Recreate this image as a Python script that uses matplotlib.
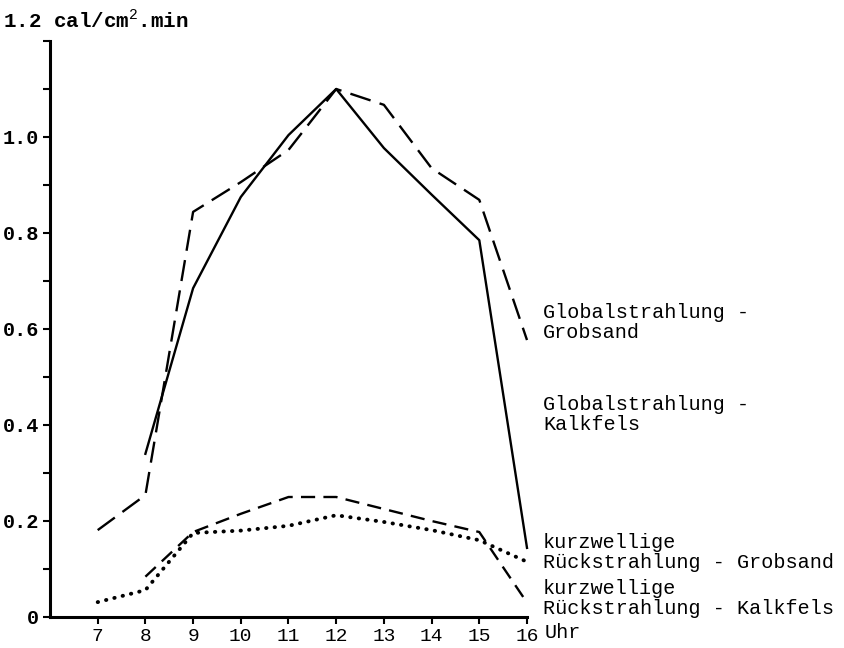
import matplotlib
matplotlib.use("Agg")
import matplotlib.pyplot as plt
from matplotlib.ticker import MultipleLocator

plt.rcParams['font.family'] = ['Liberation Mono', 'DejaVu Sans Mono']
plt.rcParams['mathtext.fontset'] = 'custom'
plt.rcParams['mathtext.rm'] = 'Liberation Mono'

# hours of the day
stunden = [7, 8, 9, 10, 11, 12, 13, 14, 15, 16]

# Globalstrahlung (cal/cm2.min)
global_grobsand_x = [7, 8, 9, 10, 11, 12, 13, 14, 15, 16]
global_grobsand = [0.181, 0.254, 0.844, 0.906, 0.973, 1.10, 1.067, 0.935, 0.869, 0.577]
global_kalkfels_x = [8, 9, 10, 11, 12, 13, 14, 15, 16]
global_kalkfels = [0.34, 0.685, 0.875, 1.004, 1.10, 0.977, 0.88, 0.785, 0.144]

# kurzwellige Rueckstrahlung
rueck_kalkfels_x = [8, 9, 10, 11, 12, 13, 14, 15, 16]
rueck_kalkfels = [0.084, 0.177, 0.215, 0.25, 0.25, 0.225, 0.20, 0.177, 0.03]
rueck_grobsand_x = [7, 8, 9, 10, 11, 12, 13, 14, 15, 16]
rueck_grobsand = [0.031, 0.056, 0.175, 0.18, 0.19, 0.212, 0.198, 0.181, 0.16, 0.115]

y_ticks = [0, 0.2, 0.4, 0.6, 0.8, 1.0]
y_ticklabels = ['0', '0.2', '0.4', '0.6', '0.8', '1.0']

fig = plt.figure(figsize=(8.45, 6.48), dpi=100)
ax = fig.add_axes([50/845, 1-617/648, (527-50)/845, (617-41)/648])

ax.plot(global_grobsand_x, global_grobsand, color='black', lw=1.7,
        dashes=(9, 4), clip_on=False)
ax.plot(global_kalkfels_x, global_kalkfels, color='black', lw=1.7,
        clip_on=False)
ax.plot(rueck_kalkfels_x, rueck_kalkfels, color='black', lw=1.7,
        dashes=(6, 3.5), clip_on=False)
ax.plot(rueck_grobsand_x, rueck_grobsand, color='black', lw=2.8,
        dashes=(0.1, 2.1), dash_capstyle='round', clip_on=False)

ax.set_xlim(6, 16)
ax.set_ylim(0, 1.2)
ax.set_xticks(stunden)
ax.set_xticklabels([str(s) for s in stunden], fontsize=14)
ax.set_yticks(y_ticks)
ax.set_yticklabels(y_ticklabels, fontsize=14.5, fontweight='bold')
ax.yaxis.set_minor_locator(MultipleLocator(0.1))
ax.tick_params(axis='both', which='both', length=5, width=1.5,
               direction='out', pad=3)
ax.tick_params(axis='y', which='minor', length=5)

for side in ['top', 'right']:
    ax.spines[side].set_visible(False)
for side in ['left', 'bottom']:
    ax.spines[side].set_linewidth(2.2)

# unit label above the y axis and hour label after the x axis
fig.text(3/845, 1-20/648, r'1.2 cal/cm$^{\mathrm{2}}$.min', fontsize=15,
         fontweight='bold', va='center', ha='left')
fig.text(545/845, 1-633/648, 'Uhr', fontsize=14.5, va='center', ha='left')

# series labels right of the plot
labels = [
    (313, 'Globalstrahlung -'),
    (333, 'Grobsand'),
    (405, 'Globalstrahlung -'),
    (425, 'Kalkfels'),
    (542, 'kurzwellige'),
    (563, 'Rückstrahlung - Grobsand'),
    (588, 'kurzwellige'),
    (608, 'Rückstrahlung - Kalkfels'),
]
for ypix, txt in labels:
    fig.text(543/845, 1-ypix/648, txt, fontsize=14.5, va='center', ha='left')

fig.savefig('out.png', dpi=100)
